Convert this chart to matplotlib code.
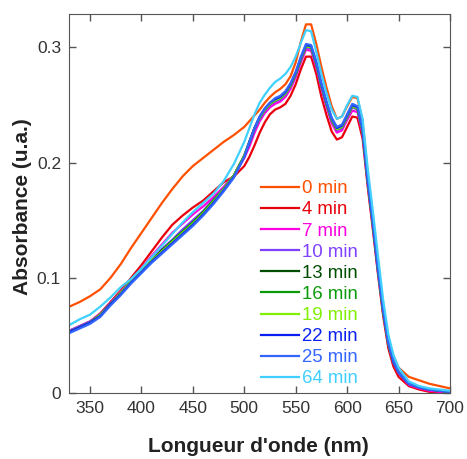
import matplotlib
matplotlib.use("Agg")
import matplotlib.pyplot as plt

plt.rcParams['font.family'] = ['Liberation Sans', 'DejaVu Sans']

# wavelengths (nm)
wl = [330, 340, 350, 360, 370, 380, 390, 400, 410, 420, 430, 440, 450, 460, 470, 480, 490, 500,
      505, 510, 515, 520, 525, 530, 535, 540, 545, 550, 555, 560, 565, 570, 575, 580, 585, 590,
      595, 600, 605, 610, 615, 620, 625, 630, 635, 640, 645, 650, 660, 670, 680, 690, 700]

# absorbance for each time
a0 = [.075, .079, .084, .090, .100, .112, .126, .139, .152, .165, .177, .188, .197, .204, .211, .218, .224, .231,
      .236, .241, .246, .252, .257, .261, .264, .268, .275, .287, .305, .320, .320, .303, .283, .265, .249, .238,
      .240, .249, .257, .256, .236, .190, .152, .112, .076, .048, .032, .022, .014, .011, .008, .006, .004]
a4 = [.054, .058, .062, .069, .079, .089, .100, .111, .123, .135, .146, .154, .161, .167, .175, .183, .188, .197,
      .205, .215, .226, .235, .242, .246, .248, .251, .258, .268, .281, .292, .292, .277, .257, .241, .227, .220,
      .222, .231, .240, .239, .221, .179, .142, .103, .067, .039, .023, .014, .006, .003, .001, .000, .000]
a7 = [.054, .058, .062, .069, .078, .088, .098, .108, .119, .129, .139, .147, .155, .162, .170, .179, .189, .204,
      .214, .226, .236, .243, .248, .251, .253, .257, .264, .274, .287, .298, .297, .283, .264, .248, .234, .226,
      .228, .237, .245, .244, .225, .182, .145, .105, .070, .042, .026, .017, .007, .004, .002, .001, .001]
a10 = [.054, .058, .062, .068, .078, .087, .097, .107, .116, .125, .133, .142, .150, .158, .168, .178, .189, .206,
       .217, .229, .238, .245, .250, .253, .255, .259, .266, .276, .289, .300, .299, .285, .266, .250, .236, .228,
       .230, .239, .248, .246, .227, .183, .146, .106, .071, .043, .027, .018, .008, .005, .003, .002, .001]
a13 = [.053, .057, .061, .068, .077, .087, .097, .106, .115, .124, .132, .140, .148, .157, .167, .177, .189, .206,
       .218, .230, .239, .246, .251, .254, .256, .260, .267, .277, .290, .301, .300, .286, .267, .251, .237, .229,
       .231, .240, .249, .247, .228, .184, .147, .107, .071, .043, .027, .018, .008, .005, .003, .002, .001]
a16 = [.053, .057, .061, .068, .077, .087, .097, .106, .115, .123, .132, .140, .148, .157, .167, .177, .189, .206,
       .218, .230, .239, .246, .251, .254, .256, .260, .267, .277, .290, .301, .300, .286, .267, .251, .237, .229,
       .231, .240, .249, .247, .228, .184, .147, .107, .071, .043, .027, .018, .008, .005, .003, .002, .001]
a19 = [.053, .057, .061, .068, .077, .087, .097, .106, .115, .123, .131, .139, .147, .156, .166, .177, .189, .206,
       .218, .230, .239, .246, .251, .254, .256, .260, .267, .277, .290, .301, .300, .286, .267, .251, .237, .229,
       .231, .240, .249, .247, .228, .184, .147, .107, .071, .043, .027, .018, .008, .005, .003, .002, .001]
a22 = [.053, .057, .061, .067, .077, .086, .096, .105, .114, .122, .130, .138, .146, .155, .165, .176, .188, .205,
       .218, .230, .240, .247, .252, .255, .257, .261, .268, .278, .291, .302, .301, .287, .268, .252, .238, .230,
       .232, .241, .250, .248, .229, .185, .148, .108, .072, .044, .027, .018, .008, .005, .003, .002, .001]
a25 = [.052, .056, .060, .066, .076, .085, .095, .104, .113, .121, .129, .137, .145, .154, .164, .175, .187, .205,
       .218, .230, .240, .247, .252, .256, .258, .262, .269, .279, .292, .303, .302, .288, .269, .253, .239, .231,
       .233, .242, .251, .249, .230, .186, .149, .109, .073, .044, .028, .018, .008, .005, .003, .002, .001]
a64 = [.059, .064, .068, .075, .083, .092, .099, .108, .118, .128, .138, .148, .157, .165, .173, .184, .199, .218,
       .230, .242, .252, .259, .265, .270, .273, .277, .283, .292, .304, .315, .314, .296, .277, .260, .246, .238,
       .240, .250, .258, .257, .238, .195, .158, .119, .081, .051, .033, .022, .010, .006, .004, .003, .002]

series = [a0, a4, a7, a10, a13, a16, a19, a22, a25, a64]
labels = ['0 min', '4 min', '7 min', '10 min', '13 min', '16 min', '19 min', '22 min', '25 min', '64 min']
colors = ['#FF5000', '#E8000B', '#FF00E0', '#8040FF', '#004D00', '#0A9A0A', '#80F000', '#0A20F0', '#3366FF', '#40D0FF']

xticks = [350, 400, 450, 500, 550, 600, 650, 700]
yticks = [0, 0.1, 0.2, 0.3]
ytick_labels = ['0', '0.1', '0.2', '0.3']

fig = plt.figure(figsize=(4.67, 4.59), dpi=100)
ax = fig.add_axes([0.1486, 0.1438, 0.815, 0.8257])

for y, lab, c in zip(series, labels, colors):
    ax.plot(wl, y, color=c, lw=1.6, label=lab)

ax.set_xlim(330, 700)
ax.set_ylim(0, 0.329)
ax.set_xticks(xticks)
ax.set_yticks(yticks)
ax.set_yticklabels(ytick_labels)
ax.tick_params(direction='in', length=5, width=1, top=True, right=True,
               labelsize=12.5, labelcolor='#333333', color='#555555', pad=6)
for s in ax.spines.values():
    s.set_color('#555555')

ax.set_xlabel("Longueur d'onde (nm)", fontsize=15, fontweight='bold', color='#222222')
ax.set_ylabel("Absorbance (u.a.)", fontsize=15, fontweight='bold', color='#222222')
ax.xaxis.set_label_coords(0.496, -0.117)
ax.yaxis.set_label_coords(-0.098, 0.493)

leg = ax.legend(loc='lower left', bbox_to_anchor=(0.49, 0.0), frameon=False, fontsize=13.4,
                handlelength=2.0, handletextpad=0.2, labelspacing=0.22, labelcolor='linecolor',
                borderpad=0.0, borderaxespad=0.3)

fig.savefig('out.png', dpi=100)
